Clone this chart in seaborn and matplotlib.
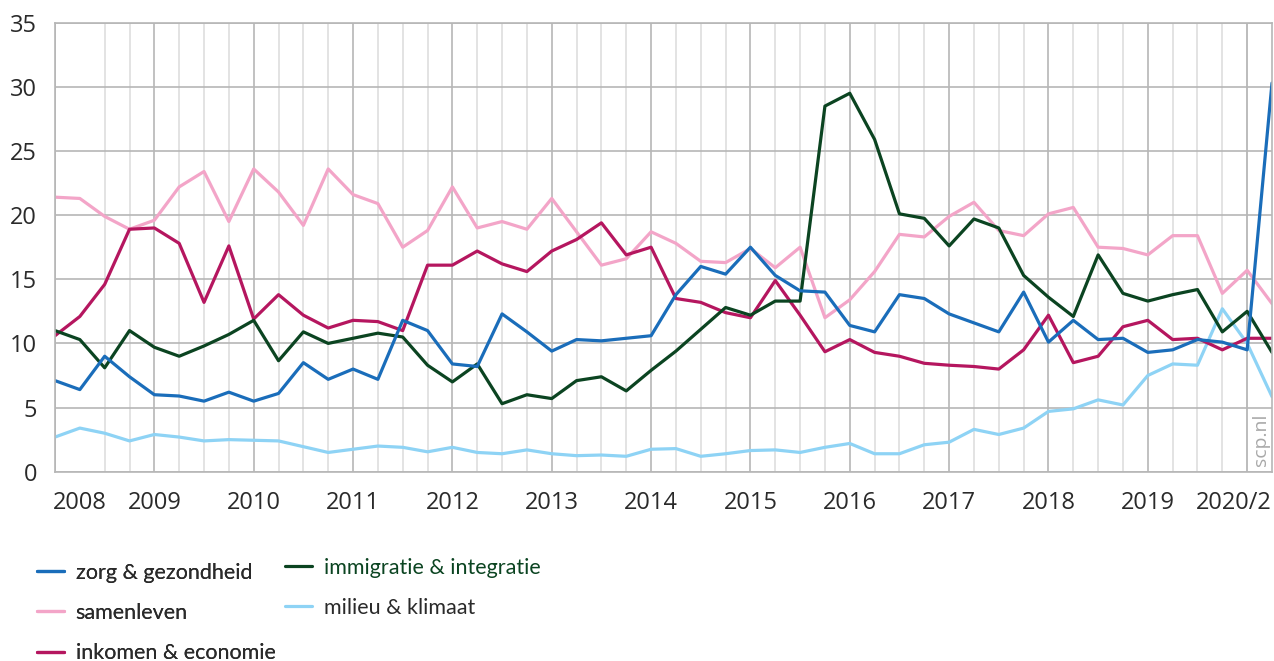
import numpy as np
import pandas as pd
import seaborn as sns
import matplotlib.pyplot as plt

# kwartalen: 2008 kw1 t/m 2020 kw2
quarters = list(range(50))
year_labels = ['2008', '2009', '2010', '2011', '2012', '2013', '2014',
               '2015', '2016', '2017', '2018', '2019', '2020/2']

zorg = [7.1, 6.4, 9.0, 7.4, 6.0, 5.9, 5.5, 6.2, 5.5, 6.1,
        8.5, 7.2, 8.0, 7.2, 11.8, 11.0, 8.4, 8.2, 12.3, 10.9,
        9.4, 10.3, 10.2, 10.4, 10.6, 13.8, 16.0, 15.4, 17.5, 15.3,
        14.1, 14.0, 11.4, 10.9, 13.8, 13.5, 12.3, 11.6, 10.9, 14.0,
        10.1, 11.8, 10.3, 10.4, 9.3, 9.5, 10.3, 10.1, 9.5, 30.3]
samenleven = [21.4, 21.3, 19.9, 18.9, 19.6, 22.2, 23.4, 19.5, 23.6, 21.8,
              19.2, 23.6, 21.6, 20.9, 17.5, 18.8, 22.2, 19.0, 19.5, 18.9,
              21.3, 18.7, 16.1, 16.6, 18.7, 17.8, 16.4, 16.3, 17.4, 15.9,
              17.5, 12.0, 13.4, 15.6, 18.5, 18.3, 19.9, 21.0, 18.8, 18.4,
              20.1, 20.6, 17.5, 17.4, 16.9, 18.4, 18.4, 13.9, 15.7, 13.1]
inkomen = [10.6, 12.1, 14.6, 18.9, 19.0, 17.8, 13.2, 17.6, 11.9, 13.8,
           12.2, 11.2, 11.8, 11.7, 11.0, 16.1, 16.1, 17.2, 16.2, 15.6,
           17.2, 18.1, 19.4, 16.9, 17.5, 13.5, 13.2, 12.4, 12.0, 14.9,
           12.2, 9.35, 10.3, 9.3, 9.0, 8.45, 8.3, 8.2, 8.0, 9.5,
           12.2, 8.5, 9.0, 11.3, 11.8, 10.3, 10.4, 9.5, 10.4, 10.4]
immigratie = [11.0, 10.3, 8.1, 11.0, 9.7, 9.0, 9.8, 10.7, 11.8, 8.65,
              10.9, 10.0, 10.4, 10.8, 10.5, 8.3, 7.0, 8.4, 5.3, 6.0,
              5.7, 7.1, 7.4, 6.3, 7.9, 9.4, 11.1, 12.8, 12.2, 13.3,
              13.3, 28.5, 29.5, 25.9, 20.1, 19.75, 17.6, 19.7, 19.0, 15.3,
              13.6, 12.1, 16.9, 13.9, 13.3, 13.8, 14.2, 10.9, 12.5, 9.3]
milieu = [2.7, 3.4, 3.0, 2.4, 2.9, 2.7, 2.4, 2.5, 2.45, 2.4,
          1.95, 1.5, 1.75, 2.0, 1.9, 1.55, 1.9, 1.5, 1.4, 1.7,
          1.4, 1.25, 1.3, 1.2, 1.75, 1.8, 1.2, 1.4, 1.65, 1.7,
          1.5, 1.9, 2.2, 1.4, 1.4, 2.1, 2.3, 3.3, 2.9, 3.4,
          4.7, 4.9, 5.6, 5.2, 7.5, 8.4, 8.3, 12.7, 10.0, 5.85]

names = ['zorg & gezondheid', 'samenleven', 'inkomen & economie',
         'immigratie & integratie', 'milieu & klimaat']
colors = ['#1a6dba', '#f3a5c8', '#b5165f', '#0b4421', '#8ed3f5']

df = pd.DataFrame({'kwartaal': quarters,
                   names[0]: zorg, names[1]: samenleven, names[2]: inkomen,
                   names[3]: immigratie, names[4]: milieu})
df = df.melt(id_vars='kwartaal', var_name='onderwerp', value_name='aandeel')

sns.set_style('white')
plt.rcParams['font.family'] = ['Open Sans', 'DejaVu Sans']
text_col = '#2a2a2a'
grid_col = '#b6b6b6'

fig = plt.figure(figsize=(12.74, 6.61), dpi=100)
ax = fig.add_axes([55 / 1274, 1 - 471.7 / 661, 1217 / 1274, 449 / 661])

# grid first
ax.set_xticks(quarters, minor=True)
ax.grid(which='minor', axis='x', color='#dedede', lw=1.2)
for q in quarters[::4]:
    ax.axvline(q, color=grid_col, lw=1.2, zorder=1)
ax.yaxis.grid(True, color=grid_col, lw=1.2)
ax.set_axisbelow(True)

draw_order = [names[4], names[1], names[2], names[3], names[0]]
palette = dict(zip(names, colors))
sns.lineplot(data=df, x='kwartaal', y='aandeel', hue='onderwerp',
             hue_order=draw_order, palette=palette, lw=2.3,
             legend=False, ax=ax)
line_of = dict(zip(draw_order, ax.lines[-5:]))

ax.set_xlim(0, 49)
ax.set_ylim(0, 35)
ax.set_yticks(range(0, 36, 5))
tick_pos = [1] + list(range(4, 48, 4)) + [49]
ax.set_xticks(tick_pos)
ax.set_xticklabels(year_labels)
ax.xaxis.get_ticklabels()[-1].set_horizontalalignment('right')
ax.tick_params(axis='both', length=0, labelsize=17, colors=text_col)
ax.tick_params(axis='x', pad=14)
ax.tick_params(axis='y', pad=13)
ax.set_xlabel('')
ax.set_ylabel('')
for s in ax.spines.values():
    s.set_color(grid_col)
    s.set_linewidth(1.2)

ax.text(0.9907, 0.012, 'scp.nl', rotation=90, transform=ax.transAxes,
        ha='center', va='bottom', fontsize=14, color='#a8a8a8')

leg_font = {'family': ['Lato', 'DejaVu Sans'], 'size': 15.5}
leg1 = fig.legend([line_of[n] for n in names[:3]], names[:3], loc='upper left',
                  bbox_to_anchor=(37 / 1274, 1 - 563 / 661), frameon=False,
                  prop=leg_font, borderpad=0, borderaxespad=0,
                  handlelength=1.25, handletextpad=0.55, labelspacing=0.93,
                  labelcolor=text_col)
leg2 = fig.legend([line_of[n] for n in names[3:]], names[3:], loc='upper left',
                  bbox_to_anchor=(285 / 1274, 1 - 558 / 661), frameon=False,
                  prop=leg_font, borderpad=0, borderaxespad=0,
                  handlelength=1.25, handletextpad=0.55, labelspacing=0.93,
                  labelcolor=text_col)
leg2.get_texts()[0].set_color(colors[3])
fig.add_artist(leg1)

fig.savefig('out.png', dpi=100)
